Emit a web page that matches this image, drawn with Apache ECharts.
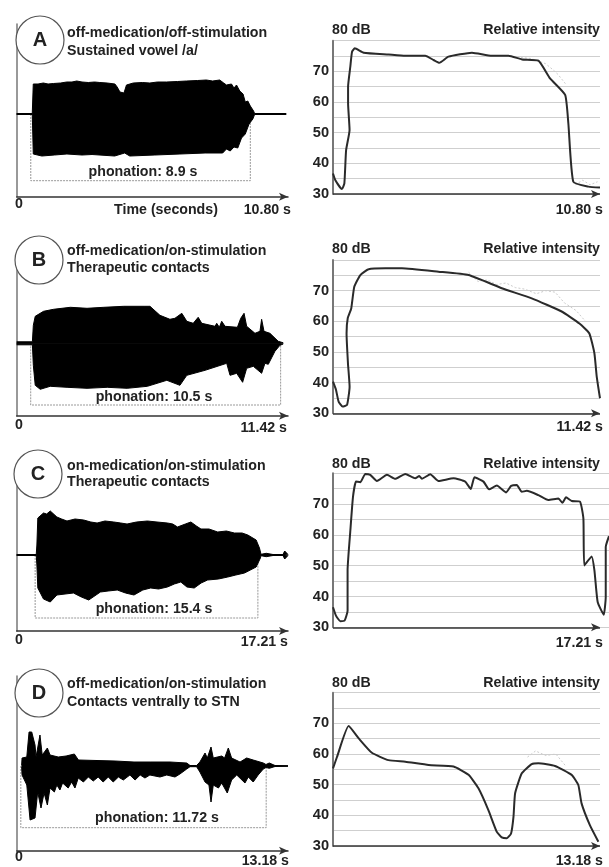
<!DOCTYPE html>
<html><head><meta charset="utf-8">
<style>html,body{margin:0;padding:0;background:#fff}#c{width:609px;height:867px;filter:blur(.5px)}</style>
<script src="https://cdn.jsdelivr.net/npm/echarts@6/dist/echarts.min.js"></script>
</head><body><div id="c"></div>
<script>
// ---- values ----
const letters = ['A','B','C','D'];
const captions = [
 ['off-medication/off-stimulation','Sustained vowel /a/'],
 ['off-medication/on-stimulation','Therapeutic contacts'],
 ['on-medication/on-stimulation','Therapeutic contacts'],
 ['off-medication/on-stimulation','Contacts ventrally to STN']];
const phonationLabels = ['phonation: 8.9 s','phonation: 10.5 s','phonation: 15.4 s','phonation: 11.72 s'];
const durations = [10.8,11.42,17.21,13.18];
const durationLabels = ['10.80 s','11.42 s','17.21 s','13.18 s'];
const phonationSpans = [[0.56,9.3,-66.7],[0.59,11.11,-61.7],[1.17,15.3,-63],[0.2,12.12,-61.7]];

const waveUpA = [[0,.5],[.62,.5],[.66,30],[.85,30],[1.06,31],[1.25,30],[1.46,30.5],[1.75,31],[1.99,32],[2.2,32],[2.39,33],[2.6,32],[2.85,31.5],[3.1,32],[3.31,31.5],[3.6,31],[3.91,30],[4,27],[4.11,22],[4.27,21],[4.37,29],[4.64,31],[5,31.5],[5.3,31],[5.6,32],[5.96,32],[6.4,32.5],[6.76,33],[7.2,33.5],[7.55,34],[7.8,33],[8.08,34],[8.24,31],[8.35,29],[8.55,30],[8.65,26],[8.75,29],[8.88,23],[9.01,20],[9.1,12],[9.2,13],[9.3,8],[9.43,3],[9.47,.5],[10.73,.5]];
const waveLowA = [[0,-.5],[.62,-.5],[.66,-40],[1,-42],[1.5,-41],[2,-40],[2.6,-41],[3,-40.5],[3.9,-42],[4.3,-39],[4.5,-42],[5.5,-41],[6.5,-40],[7.5,-39],[8.2,-39],[8.35,-35],[8.5,-37],[8.65,-33],[8.8,-34],[8.95,-24],[9.1,-20],[9.25,-10],[9.4,-5],[9.47,-.5],[10.73,-.5]];
const waveUpB = [[0,1.5],[.66,1.5],[.7,18],[.78,27],[1.13,32],[1.55,34],[2.26,36],[2.96,35],[3.67,36],[4.51,37],[5.36,37],[5.61,37],[6.03,28],[6.45,24],[6.66,25],[6.95,30],[7.16,22],[7.43,20],[7.64,26],[7.79,20],[8.35,17],[8.42,20],[8.53,16],[8.63,22],[8.77,17],[9.29,16],[9.43,25],[9.57,30],[9.68,17],[10.03,10],[10.24,12],[10.31,24],[10.41,12],[10.66,10],[11.01,2],[11.22,.5]];
const waveLowB = [[0,-1.5],[.66,-1.5],[.7,-22],[.78,-42],[.99,-46],[1.41,-43],[2.12,-44],[2.96,-45],[3.81,-44],[4.65,-45],[5.5,-43],[6.32,-37],[6.87,-42],[7.16,-32],[7.93,-27],[8.84,-20],[8.98,-32],[9.26,-30],[9.51,-39],[9.68,-25],[9.96,-23],[10.31,-30],[10.45,-20],[10.59,-21],[10.87,-8],[11.08,-2],[11.22,-.7]];
const waveUpC = [[0,.5],[1.24,.5],[1.28,10],[1.34,37],[1.7,42],[1.9,41],[2.13,44],[2.55,38],[2.85,36],[3.19,34],[3.7,36],[4.25,35],[4.7,33],[5.1,32],[5.6,34],[6.16,33],[6.6,32],[7,31],[7.6,33],[8.29,34],[8.9,33],[9.56,32],[9.9,31],[10.2,28],[10.7,31],[11.05,33],[11.4,29],[11.69,26],[12.2,26],[12.75,23],[13.3,24],[13.81,22],[14.3,22],[14.66,20],[15.19,15],[15.4,7],[15.5,.7],[15.83,1.7],[16.26,.5],[16.89,.5],[17,4],[17.21,.5]];
const waveLowC = [[0,-.5],[1.24,-.5],[1.28,-10],[1.34,-33],[1.7,-44],[2.13,-47],[2.55,-40],[3.6,-38],[4.1,-42],[4.57,-45],[5.31,-37],[5.8,-36],[6.38,-35],[6.9,-38],[7.44,-40],[8,-35],[8.5,-33],[9,-34],[9.56,-32],[10,-29],[10.41,-27],[10.8,-32],[11.26,-33],[11.7,-28],[12.11,-25],[12.8,-24],[13.39,-22],[13.9,-20],[14.45,-18],[15.19,-12],[15.46,-3],[15.5,-.7],[15.83,-1.7],[16.26,-.5],[16.89,-.5],[17,-4],[17.21,-.5]];
const waveUpD = [[.24,.5],[.26,8],[.49,9],[.6,34],[.73,34],[.89,21],[.94,9],[1.13,31],[1.24,11],[1.49,18],[1.62,11],[2.02,9],[2.4,10],[2.8,12],[3,6],[4.78,5],[5.7,4],[6.48,4],[7.45,4],[8.26,3],[8.42,.5],[8.74,.5],[8.9,4],[9.15,13],[9.26,8],[9.44,19],[9.55,8],[9.96,10],[10.1,8],[10.28,18],[10.44,8],[10.85,4],[11.17,8],[11.49,6],[11.98,3],[12.11,1.5],[12.27,3],[12.55,.5],[13.18,.3]];
const waveLowD = [[.24,-.5],[.26,-9],[.49,-19],[.65,-54],[.89,-52],[1.02,-26],[1.18,-42],[1.33,-27],[1.49,-39],[1.62,-22],[1.83,-26],[1.95,-19],[2.1,-24],[2.23,-17],[2.5,-22],[2.67,-16],[2.83,-22],[2.99,-12],[3.24,-16],[3.48,-11],[3.72,-15],[3.96,-11],[4.2,-16],[4.45,-11],[4.69,-16],[4.94,-11],[5.18,-14],[5.5,-9],[5.75,-14],[6,-9],[6.23,-12],[6.47,-9],[6.96,-11],[7.29,-9],[7.69,-11],[7.93,-8],[8.26,-3],[8.42,-.7],[8.74,-.7],[8.9,-6],[9.15,-16],[9.34,-19],[9.44,-36],[9.55,-19],[9.8,-22],[9.96,-17],[10.23,-27],[10.44,-14],[10.69,-9],[11.09,-17],[11.25,-11],[11.49,-16],[11.73,-9],[11.98,-3],[12.11,-1.5],[12.27,-2.3],[12.55,-.5],[13.18,-.3]];

const dbA = [[0,36.7],[.09,34.6],[.36,31.6],[.46,33.5],[.53,44.3],[.67,50.9],[.61,59.6],[.61,65],[.7,71.5],[.77,76.4],[.88,77.5],[1.24,76.1],[2.25,75.5],[2.92,75.1],[3.73,75.1],[4.07,73.7],[4.3,72.8],[4.67,74.8],[5.62,76.1],[6.42,75.1],[7.1,75.1],[7.64,73.9],[8.31,73.5],[8.78,67.7],[9.39,62.3],[9.52,53],[9.72,34],[10.33,32.4],[10.8,32.1]];
const dbB = [[0,40.3],[.13,37.6],[.24,33.8],[.41,32.2],[.6,32.7],[.71,38.7],[.64,46.3],[.58,56.1],[.63,61],[.78,64.2],[.91,71.3],[1.17,75.1],[1.52,77],[2.24,77.3],[2.95,77.3],[4.51,76.2],[5.8,75.1],[7.22,70.8],[8.5,67.5],[9.78,63.2],[10.54,59.3],[10.96,56.1],[11.18,49.6],[11.28,42],[11.42,34.9]];
const dbC = [[0,36.5],[.19,33.8],[.47,32],[.75,32.2],[.94,35.4],[.94,48.5],[1.12,61.5],[1.29,72.4],[1.48,77.3],[1.76,77.1],[2.08,79.8],[2.4,79.5],[2.83,77.5],[3.48,79.5],[4.01,78.2],[4.66,79.8],[5.3,78.4],[5.56,79.1],[5.73,78.2],[6.27,79.7],[6.8,77.5],[7.77,78.4],[8.52,77.3],[8.88,74.9],[9.12,78.7],[9.7,77.3],[10.06,74.8],[10.56,76],[11.16,73.8],[11.48,75.9],[11.85,76.2],[12.17,74],[12.49,74.3],[13.24,72.9],[13.88,71.3],[14.53,71.8],[14.79,70.4],[15.02,72.2],[15.39,71],[15.92,70.8],[16.14,65.3],[16.2,50.1],[16.67,53],[16.85,48.5],[17.06,38.2],[17.45,34.1],[17.58,39.8],[17.58,56.1],[17.79,59.6]];
const dbD = [[0,55.3],[.2,59.1],[.77,69.1],[1.27,65.1],[1.92,60.4],[2.74,58],[3.57,57.5],[4.72,56.4],[5.95,55.9],[6.69,53.2],[7.18,48.8],[7.67,41.7],[8.08,34.7],[8.33,32.8],[8.58,32.5],[8.79,34.1],[8.91,39.6],[8.99,47.2],[9.32,53.7],[9.81,56.7],[10.14,57],[10.96,56.1],[11.78,53.2],[12.11,49.9],[12.27,43.9],[12.68,36.8],[13.1,31.4]];
const rawA1 = [[7.6,74.5],[8,74.2],[8.6,72.5],[8.9,70.5],[9.1,69],[9.4,66]];
const rawA2 = [[9.8,33],[10.1,34.5],[10.4,33],[10.7,34]];
const rawB = [[5.8,76],[6.2,73],[6.6,73.5],[7,72],[7.4,72.5],[7.8,71],[8.2,70.5],[8.7,69],[9.1,70],[9.5,69.5],[9.9,66],[10.4,63.5],[10.8,60]];
const rawD = [[9.6,59],[10,61],[10.5,59.5],[11,60],[11.5,56]];
const yTicks = [30,40,50,60,70];

// ---- layout tables ----
const waveFrames = [{base:114,bottom:196.7},{base:343.3,bottom:415.7},{base:555,bottom:631},{base:766,bottom:850.7}];
const dbFrames = [{top:40.7,bottom:194,right:600},{top:260,bottom:413.3,right:600},{top:473.3,bottom:627.3,right:609},{top:692.7,bottom:846,right:600}];
const circles = [[40,40],[39,260],[38,474],[39,693]];
const capY = [[33,50.7],[251,268.3],[465.7,482.3],[684.3,701.7]];
const phonPos = [[143,172],[154,396.7],[154,609],[157,818]];
const zeroY = [204,425,640,857];
const endPos = [[291,210],[287,428],[288,642],[289,861]];
const rightHeadY = [30,249.3,464.3,682.7];
const rightEndY = [210,427,642.7,861];
const waves = [[waveUpA,waveLowA],[waveUpB,waveLowB],[waveUpC,waveLowC],[waveUpD,waveLowD]];
const dbs = [dbA,dbB,dbC,dbD];
const raws = [[rawA1,rawA2],[rawB],[],[rawD]];
const dbXMax = [10.8,11.42,17.79,13.18];

const FONT = '"Liberation Sans", Arial, sans-serif', INK = '#222', FS = 14.2;
const grid=[], xAxis=[], yAxis=[], series=[], graphic=[];
const txt=(x,y,t,size,align)=>({type:'text',x,y,z:50,style:{text:t,fill:INK,font:`bold ${size}px ${FONT}`,textAlign:align||'left',textVerticalAlign:'middle'}});

letters.forEach((L,i)=>{
  const f=waveFrames[i], T=durations[i];
  const g=grid.length;
  grid.push({left:16.7,width:271.3,top:f.base-90,height:f.bottom-f.base+90});
  xAxis.push({type:'value',gridIndex:g,min:0,max:T,axisTick:{show:false},axisLabel:{show:false},splitLine:{show:false},
    axisLine:{show:true,onZero:false,symbol:['none','arrow'],symbolSize:[6,9],lineStyle:{color:'#333',width:1.5}}});
  yAxis.push({type:'value',gridIndex:g,min:f.base-f.bottom,max:90,axisTick:{show:false},axisLabel:{show:false},splitLine:{show:false},
    axisLine:{show:true,onZero:false,lineStyle:{color:'#777',width:1.5}}});
  const [up,low]=waves[i];
  [up,low].forEach((d,k)=>series.push({type:'line',name:'wave'+L+k,xAxisIndex:g,yAxisIndex:g,data:d,showSymbol:false,animation:false,silent:true,
    lineStyle:{color:'#000',width:1},areaStyle:{color:'#000',opacity:1},z:3}));
  series.push({type:'line',name:'centre'+L,xAxisIndex:g,yAxisIndex:g,data:[[up[0][0],0],[up[up.length-1][0],0]],showSymbol:false,animation:false,silent:true,
    lineStyle:{color:'#000',width:1},z:3});
  const [a,b,c]=phonationSpans[i];
  series.push({type:'line',name:'phonation'+L,xAxisIndex:g,yAxisIndex:g,data:[[a,0],[a,c],[b,c],[b,0]],showSymbol:false,animation:false,silent:true,
    lineStyle:{color:'#999',width:1,type:[2,1]},z:2});

  const r=dbFrames[i], h=grid.length;
  grid.push({left:333,top:r.top,height:r.bottom-r.top,width:r.right-333});
  xAxis.push({type:'value',gridIndex:h,min:0,max:dbXMax[i],axisTick:{show:false},axisLabel:{show:false},splitLine:{show:false},axisLine:{show:false}});
  yAxis.push({type:'value',gridIndex:h,min:30,max:80,interval:5,axisTick:{show:false},
    axisLabel:{margin:4,color:INK,fontWeight:'bold',fontSize:14.6,fontFamily:FONT,padding:[0,0,3,0],formatter:v=>yTicks.includes(v)?String(v):''},
    splitLine:{show:true,lineStyle:{color:'#cfcfcf',width:1}},
    axisLine:{show:true,onZero:false,lineStyle:{color:'#777',width:2}}});
  raws[i].forEach((d,k)=>series.push({type:'line',name:'raw'+L+k,xAxisIndex:h,yAxisIndex:h,data:d,showSymbol:false,animation:false,silent:true,
    lineStyle:{color:'#ccc',width:1,type:[2,2]},z:2}));
  series.push({type:'line',name:'intensity'+L,xAxisIndex:h,yAxisIndex:h,data:dbs[i],showSymbol:false,animation:false,silent:true,clip:false,
    smooth:0.15,lineStyle:{color:'#2a2a2a',width:2},z:4,
    markLine:{silent:true,animation:false,symbol:['none','arrow'],symbolSize:[6,9],label:{show:false},lineStyle:{color:'#333',width:1.5,type:'solid'},
      data:[[{coord:[0,30]},{coord:[T,30]}]]}});

  const [cx,cy]=circles[i];
  graphic.push({type:'circle',shape:{cx,cy,r:24},z:40,style:{fill:'#fff',stroke:'#555',lineWidth:1.2}});
  graphic.push(txt(cx,cy,L,20,'center'));
  graphic.push(txt(67,capY[i][0],captions[i][0],FS));
  graphic.push(txt(67,capY[i][1],captions[i][1],FS));
  graphic.push(txt(phonPos[i][0],phonPos[i][1],phonationLabels[i],FS,'center'));
  graphic.push(txt(19,zeroY[i],'0',FS,'center'));
  graphic.push(txt(endPos[i][0],endPos[i][1],durationLabels[i],FS,'right'));
  graphic.push(txt(332,rightHeadY[i],'80 dB',FS));
  graphic.push(txt(600,rightHeadY[i],'Relative intensity',FS,'right'));
  graphic.push(txt(603,rightEndY[i],durationLabels[i],FS,'right'));
});
graphic.push(txt(166,210,'Time (seconds)',FS,'center'));

const chart=echarts.init(document.getElementById('c'),null,{renderer:'canvas',width:609,height:867});
chart.setOption({animation:false,backgroundColor:'#fff',grid,xAxis,yAxis,series,graphic:{elements:graphic}});
</script></body></html>
